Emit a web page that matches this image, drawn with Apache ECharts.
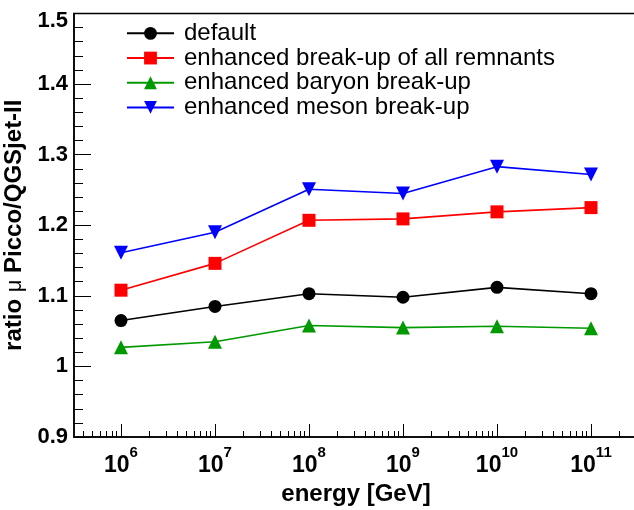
<!DOCTYPE html>
<html>
<head>
<meta charset="utf-8">
<script src="https://cdn.jsdelivr.net/npm/echarts@6/dist/echarts.min.js"></script>
<style>
  html, body { margin: 0; padding: 0; background: #fff; }
  #chart { width: 634px; height: 510px; }
</style>
</head>
<body>
<div id="chart"></div>
<script>
// Energy given as log10(E / GeV)
const energyExp = [6, 7, 8, 9, 10, 11];

// Muon number ratio Picco / QGSjet-II per model variant
const ratioDefault   = [1.065, 1.085, 1.103, 1.098, 1.112, 1.103];
const ratioRemnants  = [1.108, 1.146, 1.207, 1.209, 1.219, 1.225];
const ratioBaryon    = [1.027, 1.035, 1.058, 1.055, 1.057, 1.054];
const ratioMeson     = [1.161, 1.190, 1.251, 1.245, 1.283, 1.272];

const seriesNames = [
  'default',
  'enhanced break-up of all remnants',
  'enhanced baryon break-up',
  'enhanced meson break-up'
];

// Decade tick positions shown with labels
const decadeTicks = [6, 7, 8, 9, 10, 11];

const xMin = 5.5, xMax = 11.5;

// Logarithmic sub-decade ticks (2..9 x 10^n) inside the axis range
const subTicks = [];
for (let n = 5; n <= 11; n++) {
  for (let k = 2; k <= 9; k++) {
    const v = Math.log10(k) + n;
    if (v > xMin && v < xMax) subTicks.push(v);
  }
}

const FONT = 'Liberation Sans';

function pairs(ys) {
  return energyExp.map((x, i) => [x, ys[i]]);
}

function lineSeries(name, ys, color, symbol, size, rotate) {
  return {
    name: name,
    type: 'line',
    data: pairs(ys),
    symbol: symbol,
    symbolSize: size,
    symbolRotate: rotate || 0,
    showSymbol: true,
    lineStyle: { color: color, width: 1.6 },
    itemStyle: { color: color },
    emphasis: { disabled: true },
    z: 3
  };
}

const chart = echarts.init(document.getElementById('chart'), null, { renderer: 'canvas' });

chart.setOption({
  animation: false,
  backgroundColor: '#fff',
  grid: {
    left: 74, top: 13.5, right: -4, bottom: 73,
    containLabel: false,
    outerBoundsMode: 'none',
    show: true, borderColor: '#000', borderWidth: 1.5,
    backgroundColor: 'transparent'
  },
  legend: {
    orient: 'vertical',
    left: 126,
    top: 21,
    padding: 0,
    itemWidth: 47,
    itemHeight: 16,
    itemGap: 0,
    data: seriesNames,
    textStyle: {
      fontFamily: FONT, fontSize: 24, color: '#000',
      lineHeight: 24.7, padding: [0, 0, 0, 5]
    }
  },
  xAxis: [
    {
      type: 'value',
      position: 'bottom',
      min: xMin, max: xMax,
      splitLine: { show: false },
      axisLine: { show: true, lineStyle: { color: '#000', width: 1.5 } },
      axisTick: {
        show: true, inside: true, length: 13,
        customValues: decadeTicks,
        lineStyle: { color: '#000', width: 1 }
      },
      axisLabel: {
        customValues: decadeTicks,
        margin: 8,
        formatter: v => '{b|10}{s|' + Math.round(v) + '}',
        rich: {
          b: { fontFamily: FONT, fontWeight: 'bold', fontSize: 23, color: '#000', lineHeight: 32, verticalAlign: 'bottom' },
          s: { fontFamily: FONT, fontWeight: 'bold', fontSize: 15, color: '#000', lineHeight: 15, verticalAlign: 'top' }
        }
      },
      name: 'energy [GeV]',
      nameLocation: 'middle',
      nameGap: 41,
      nameTextStyle: { fontFamily: FONT, fontWeight: 'bold', fontSize: 24, color: '#000' }
    },
    {
      type: 'value',
      position: 'bottom',
      min: xMin, max: xMax,
      splitLine: { show: false },
      axisLine: { show: false },
      axisLabel: { show: false },
      axisTick: {
        show: true, inside: true, length: 6,
        customValues: subTicks,
        lineStyle: { color: '#000', width: 1 }
      }
    }
  ],
  yAxis: {
    type: 'value',
    min: 0.9, max: 1.5, interval: 0.1,
    splitLine: { show: false },
    axisLine: { show: true, lineStyle: { color: '#000', width: 1.5 } },
    axisTick: { show: true, inside: true, length: 17, lineStyle: { color: '#000', width: 1 } },
    minorTick: { show: true, splitNumber: 5, length: 9, lineStyle: { color: '#000', width: 1 } },
    axisLabel: {
      margin: 6,
      fontFamily: FONT, fontWeight: 'bold', fontSize: 22, color: '#000',
      formatter: v => {
        const s = String(Math.round(v * 10) / 10);
        return Math.abs(v - 1.5) < 1e-6 ? '{t|' + s + '}' : s;
      },
      rich: {
        t: { fontFamily: FONT, fontWeight: 'bold', fontSize: 22, color: '#000', padding: [14, 0, 0, 0] }
      }
    },
    name: '{b|ratio }{m|μ}{b| Picco/QGSjet-II}',
    nameLocation: 'middle',
    nameGap: 42,
    nameTextStyle: {
      color: '#000',
      rich: {
        b: { fontFamily: FONT, fontWeight: 'bold', fontSize: 24, color: '#000' },
        m: { fontFamily: FONT, fontWeight: 'normal', fontSize: 22, color: '#000' }
      }
    }
  },
  series: [
    lineSeries(seriesNames[0], ratioDefault, '#000000', 'circle', 13),
    lineSeries(seriesNames[1], ratioRemnants, '#ff0000', 'rect', 13),
    lineSeries(seriesNames[2], ratioBaryon, '#009900', 'triangle', 14),
    lineSeries(seriesNames[3], ratioMeson, '#0000ff', 'triangle', 14, 180)
  ]
});
</script>
</body>
</html>
